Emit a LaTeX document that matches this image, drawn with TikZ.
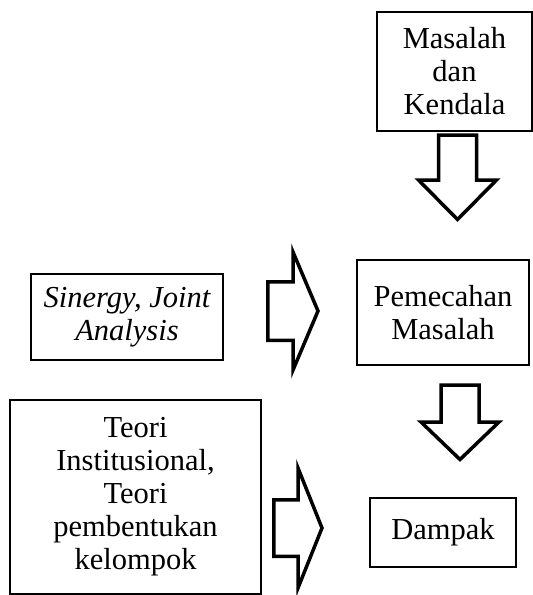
\documentclass[tikz,border=0pt]{standalone}
\usepackage{fontspec}
\setmainfont{Liberation Serif}
\begin{document}
\begin{tikzpicture}[x=1pt,y=-1pt,
  box/.style={draw,line width=1.3pt,align=center,inner sep=0pt,
    font=\fontsize{30.5}{33}\selectfont},
  blockarrow/.style={draw,line width=3.5pt,fill=white,line join=miter}]
\useasboundingbox (0,0) rectangle (533,595);
% boxes
\node[box,minimum width=155pt,minimum height=119pt] (masalah) at (454.5,71.5) {Masalah\\dan\\Kendala};
\node[box,minimum width=192pt,minimum height=86pt] (sinergy) at (127,317) {\itshape Sinergy, Joint\\\itshape Analysis};
\node[box,minimum width=172pt,minimum height=105pt] (pemecahan) at (443,312.5) {Pemecahan\\Masalah};
\node[box,minimum width=251pt,minimum height=194pt] (teori) at (135.5,497) {Teori\\Institusional,\\Teori\\pembentukan\\kelompok};
\node[box,minimum width=146pt,minimum height=69pt] (dampak) at (443,532.5) {Dampak};
% block arrows
\draw[blockarrow] (438.5,135) -- (476.5,135) -- (476.5,180) -- (496.5,180)
  -- (457.5,219.5) -- (418.5,180) -- (438.5,180) -- cycle;
\draw[blockarrow] (267.75,281.75) -- (293,281.75) -- (293,252) -- (318,311)
  -- (293,370) -- (293,340.25) -- (267.75,340.25) -- cycle;
\draw[blockarrow] (441,385) -- (479,385) -- (479,422) -- (499,422)
  -- (460,459.5) -- (421,422) -- (441,422) -- cycle;
\draw[blockarrow] (273.75,499.75) -- (298,499.75) -- (298,468) -- (322,528)
  -- (298,588) -- (298,556.25) -- (273.75,556.25) -- cycle;
\end{tikzpicture}
\end{document}
